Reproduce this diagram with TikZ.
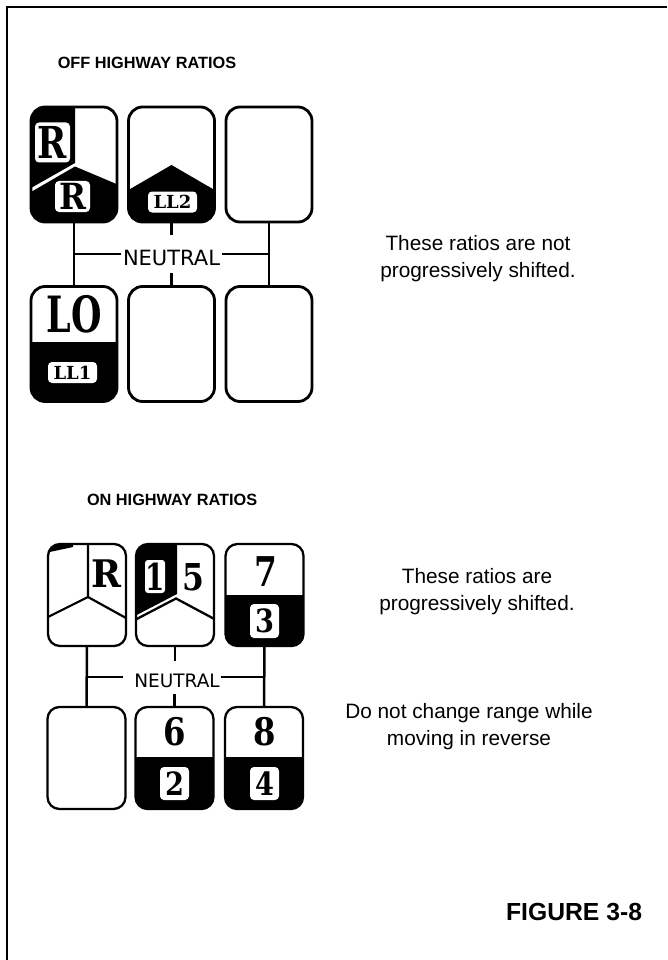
\documentclass[tikz,border=0pt]{standalone}
\usepackage{fontspec}
\usepackage{graphicx}
\setmainfont{Liberation Sans}
\newfontfamily\slab{DejaVu Serif}
\newfontfamily\neutfont{DejaVu Sans}
\tikzset{
  every node/.style={inner sep=0pt, outer sep=0pt},
  gboxA/.style={draw, line width=2.8pt, rounded corners=14pt, minimum width=86pt, minimum height=115pt},
  gboxB/.style={draw, line width=2.3pt, rounded corners=12pt, minimum width=78pt, minimum height=102pt},
  connA/.style={line width=2.8pt},
  connB/.style={line width=2.5pt},
  tag/.style={fill=white, rounded corners=4pt, text=black},
  neutA/.style={font=\neutfont\fontsize{21}{24}\selectfont, inner xsep=2pt, inner ysep=8pt, text height=22pt, text depth=0pt},
  neutB/.style={font=\neutfont\fontsize{18.5}{22}\selectfont, inner xsep=1pt, inner ysep=6pt, text height=21pt, text depth=0pt},
  title/.style={font=\fontsize{16.3}{19}\selectfont\bfseries},
  note/.style={font=\fontsize{20.8}{27}\selectfont, align=center},
  fig/.style={font=\fontsize{24.7}{28}\selectfont\bfseries},
}
\newcommand{\slb}[2]{{\slab\bfseries\fontsize{#1}{#1}\selectfont #2}}
\begin{document}
\begin{tikzpicture}[x=1pt,y=-1pt]
\useasboundingbox (0,0) rectangle (667,960);
\fill[white] (0,0) rectangle (667,960);
% frame
\draw[line width=1.6pt] (7,960) -- (7,7) -- (667,7);

% ---------- OFF HIGHWAY ----------
\node[title] (offt) at (147,63) {OFF HIGHWAY RATIOS};

% fills top grid
\begin{scope}
  \clip[rounded corners=14pt] (31,107) rectangle (117,222);
  \fill (25,100) -- (75,100) -- (75,163) -- (25,191.4) -- cycle;
  \fill (25,195.5) -- (75,166.5) -- (120,185.5) -- (120,230) -- (25,230) -- cycle;
\end{scope}
\begin{scope}
  \clip[rounded corners=14pt] (128.5,107) rectangle (214.5,222);
  \fill (125,192) -- (171.5,165) -- (218,192) -- (218,230) -- (125,230) -- cycle;
\end{scope}
\begin{scope}
  \clip[rounded corners=14pt] (31,286.5) rectangle (117,401.5);
  \fill (25,342) rectangle (120,410);
\end{scope}

\node[gboxA] (t11) at (74,164.5) {};
\node[gboxA] (t12) at (171.5,164.5) {};
\node[gboxA] (t13) at (269,164.5) {};
\node[gboxA] (t21) at (74,344) {};
\node[gboxA] (t22) at (171.5,344) {};
\node[gboxA] (t23) at (269,344) {};

\node[tag, minimum width=35pt, minimum height=40pt] (rUp) at (52.5,142.5) {\scalebox{0.8}[1]{\slb{44}{R}}};
\node[tag, minimum width=35pt, minimum height=31pt] (rLo) at (72.5,196.5) {\scalebox{0.9}[1]{\slb{36}{R}}};
\node[tag, minimum width=49pt, minimum height=21pt] (ll2) at (172.5,202) {\slb{18}{LL2}};
\node (lo) at (74,314) {\scalebox{0.7}[1]{\slb{50}{LO}}};
\node[tag, minimum width=49pt, minimum height=21pt] (ll1) at (72.5,372.5) {\slb{18}{LL1}};

% neutral top
\node[neutA] (n1) at (171.5,254) {NEUTRAL};
\draw[connA] (t11.south) -- (t21.north);
\draw[connA] (t13.south) -- (t23.north);
\draw[connA] (t12.south) -- (n1.north);
\draw[connA] (n1.south) -- (t22.north);
\draw[connA] (n1.west) -- (t11.south |- n1.west);
\draw[connA] (n1.east) -- (t13.south |- n1.east);

\node[note] (txt1) at (478,259) {These ratios are not\\progressively shifted.};

% ---------- ON HIGHWAY ----------
\node[title, anchor=west] (ont) at (87,500) {ON HIGHWAY RATIOS};

\begin{scope}
  \clip[rounded corners=12pt] (48,544) rectangle (126,646);
  \fill (45,541) -- (73,541) -- (73,547) -- (45,553) -- cycle;
\end{scope}
\begin{scope}
  \clip[rounded corners=12pt] (136,544) rectangle (214,646);
  \fill (130,540) -- (177,540) -- (177,594) -- (130,618.5) -- cycle;
  \draw[line width=2.3pt] (130,622.5) -- (176,598.5) -- (220,622);
\end{scope}
\begin{scope}
  \clip[rounded corners=12pt] (225.5,544) rectangle (303.5,646);
  \fill (220,595) rectangle (310,650);
\end{scope}
\begin{scope}
  \clip[rounded corners=12pt] (135.5,707) rectangle (213.5,809);
  \fill (130,757) rectangle (220,815);
\end{scope}
\begin{scope}
  \clip[rounded corners=12pt] (225,707) rectangle (303,809);
  \fill (220,757) rectangle (310,815);
\end{scope}
\draw[line width=2.2pt] (88,544) -- (88,597) -- (48,617);
\draw[line width=2.2pt] (88,597) -- (126,618);

\node[gboxB] (b11) at (87,595) {};
\node[gboxB] (b12) at (175,595) {};
\node[gboxB] (b13) at (264.5,595) {};
\node[gboxB] (b21) at (86.5,758) {};
\node[gboxB] (b22) at (174.5,758) {};
\node[gboxB] (b23) at (264,758) {};

\node (rB) at (106,574) {\scalebox{0.95}[1]{\slb{38}{R}}};
\node[tag, minimum width=20pt, minimum height=33pt, rounded corners=3pt] (one) at (155,576.5) {\scalebox{0.75}[1]{\slb{37}{1}}};
\node (five) at (193,577) {\scalebox{0.85}[1]{\slb{37}{5}}};
\node (seven) at (266,572) {\scalebox{0.8}[1]{\slb{41}{7}}};
\node[tag, minimum width=29pt, minimum height=34pt] (three) at (264.5,621) {\scalebox{0.85}[1]{\slb{32}{3}}};
\node (six) at (174.5,732) {\scalebox{0.85}[1]{\slb{38}{6}}};
\node[tag, minimum width=29pt, minimum height=33pt] (two) at (174.5,783.5) {\scalebox{0.85}[1]{\slb{32}{2}}};
\node (eight) at (264.5,732) {\scalebox{0.85}[1]{\slb{38}{8}}};
\node[tag, minimum width=29pt, minimum height=33pt] (four) at (264.5,783.5) {\scalebox{0.85}[1]{\slb{32}{4}}};

\node[neutB] (n2) at (177,677) {NEUTRAL};
\draw[connB] (b11.south) -- (b21.north);
\draw[connB] (b13.south) -- (b23.north);
\draw[connB] (b12.south) -- (b12.south |- n2.north);
\draw[connB] (b22.north |- n2.south) -- (b22.north);
\draw[connB] ([xshift=-10pt]n2.west) -- (b11.south |- n2.west);
\draw[connB] (n2.east) -- (b13.south |- n2.east);

\node[note] (txt2) at (477,591.5) {These ratios are\\progressively shifted.};
\node[note] (txt3) at (469,726.5) {Do not change range while\\moving in reverse};

\node[fig, anchor=east] (figl) at (642,912) {FIGURE 3-8};
\end{tikzpicture}
\end{document}
